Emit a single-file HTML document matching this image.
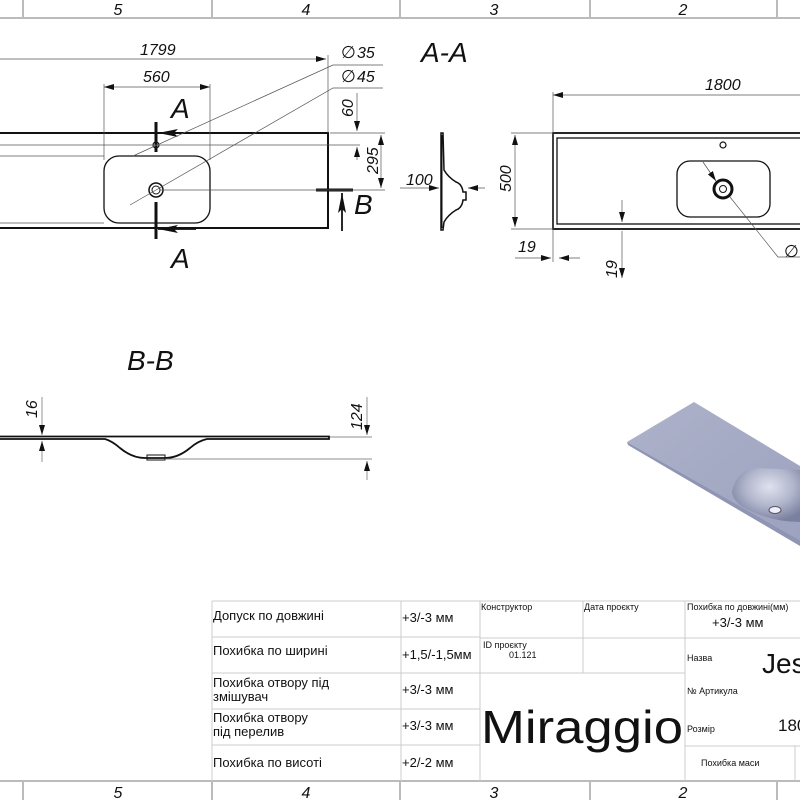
<!DOCTYPE html>
<html><head><meta charset="utf-8"><style>
html,body{margin:0;padding:0;background:#fff;width:800px;height:800px;overflow:hidden}
svg{display:block}
.it{font-family:"Liberation Sans",sans-serif;font-style:italic;fill:#111}
.t{font-family:"Liberation Sans","DejaVu Sans",sans-serif;fill:#111}
</style></head><body>
<svg width="800" height="800" viewBox="0 0 800 800" xmlns="http://www.w3.org/2000/svg">
<defs>
<marker id="ar" viewBox="0 0 10 6" refX="10" refY="3" markerWidth="10" markerHeight="6" orient="auto-start-reverse" markerUnits="userSpaceOnUse"><path d="M0,0 L10,3 L0,6 z" fill="#111"/></marker>
<marker id="big" viewBox="0 0 20 8" refX="20" refY="4" markerWidth="20" markerHeight="8" orient="auto" markerUnits="userSpaceOnUse"><path d="M0,0 L20,4 L0,8 L4,4 z" fill="#111"/></marker>
<linearGradient id="g3" x1="0" y1="0" x2="1" y2="1"><stop offset="0" stop-color="#aeb2ca"/><stop offset="1" stop-color="#9ca2bf"/></linearGradient>
<radialGradient id="sk" cx="0.55" cy="0.35" r="0.65"><stop offset="0" stop-color="#dfe2ee"/><stop offset="0.55" stop-color="#b0b5cc"/><stop offset="1" stop-color="#7a809f"/></radialGradient>
</defs>
<g stroke="#bbb" stroke-width="2" fill="none">
<line x1="0" y1="18" x2="800" y2="18"/>
<line x1="23" y1="0" x2="23" y2="18"/><line x1="212" y1="0" x2="212" y2="18"/><line x1="400" y1="0" x2="400" y2="18"/><line x1="590" y1="0" x2="590" y2="18"/><line x1="777" y1="0" x2="777" y2="18"/>
<line x1="0" y1="781" x2="800" y2="781"/>
<line x1="23" y1="781" x2="23" y2="800"/><line x1="212" y1="781" x2="212" y2="800"/><line x1="400" y1="781" x2="400" y2="800"/><line x1="590" y1="781" x2="590" y2="800"/><line x1="777" y1="781" x2="777" y2="800"/>
</g>
<g class="it" font-size="16" text-anchor="middle">
<text x="118" y="15">5</text><text x="306" y="15">4</text><text x="494" y="15">3</text><text x="683" y="15">2</text>
<text x="118" y="798">5</text><text x="306" y="798">4</text><text x="494" y="798">3</text><text x="683" y="798">2</text>
</g>

<g stroke="#111" fill="none">
<rect x="-5" y="133" width="333" height="95" stroke-width="2"/>
<rect x="104" y="156" width="106" height="67" rx="15" stroke-width="1.3"/>
<circle cx="156" cy="190" r="7" stroke-width="1.5"/><circle cx="156" cy="190" r="4" stroke-width="1"/>
<circle cx="156" cy="145" r="3" stroke-width="1.2"/>
<line x1="156" y1="122" x2="156" y2="152" stroke-width="3"/>
<line x1="156" y1="202" x2="156" y2="239" stroke-width="3"/>
<line x1="316" y1="190" x2="353" y2="190" stroke-width="3"/>
</g>
<g stroke="#111" stroke-width="1.8">
<line x1="196" y1="133" x2="158" y2="133" marker-end="url(#big)"/>
<line x1="196" y1="229" x2="158" y2="229" marker-end="url(#big)"/>
<line x1="342" y1="231" x2="342" y2="193" marker-end="url(#big)"/>
</g>
<g stroke="#555" stroke-width="0.7" fill="none">
<line x1="0" y1="59" x2="326" y2="59" marker-end="url(#ar)"/>
<line x1="328" y1="55" x2="328" y2="133"/>
<line x1="104" y1="87" x2="210" y2="87" marker-start="url(#ar)" marker-end="url(#ar)"/>
<line x1="104" y1="84" x2="104" y2="160"/><line x1="210" y1="84" x2="210" y2="160"/>
<polyline points="383,65 333,65 133,156"/>
<polyline points="383,88 333,88 130,205"/>
<line x1="0" y1="145" x2="360" y2="145"/>
<line x1="160" y1="190" x2="385" y2="190"/>
<line x1="0" y1="156" x2="104" y2="156"/><line x1="0" y1="223" x2="104" y2="223"/>
<line x1="330" y1="133" x2="385" y2="133"/>
<line x1="357" y1="93" x2="357" y2="131" marker-end="url(#ar)"/>
<line x1="357" y1="160" x2="357" y2="147" marker-end="url(#ar)"/>
<line x1="381" y1="135" x2="381" y2="188" marker-start="url(#ar)" marker-end="url(#ar)"/>
</g>
<g class="it" font-size="16">
<text x="140" y="55">1799</text>
<text x="143" y="82">560</text>
<text x="357" y="58">35</text><text x="357" y="82">45</text>
<text x="341" y="58" font-size="17" font-style="normal">∅</text><text x="341" y="82" font-size="17" font-style="normal">∅</text>
<text transform="translate(353,117) rotate(-90)">60</text>
<text transform="translate(378,174) rotate(-90)">295</text>
</g>
<g class="it" font-size="28">
<text x="171" y="118">A</text><text x="171" y="268">A</text><text x="354" y="214">B</text>
<text x="421" y="62">A-A</text>
<text x="127" y="370">B-B</text>
</g>

<g stroke="#111" stroke-width="1.5" fill="none">
<path d="M441,133 L443,133 L444,170 Q448,177 456,182 Q462,184 463,192 L466,192 L466,200 L463,200 Q462,208 456,210 Q448,215 444,222 L443,230 L441,230 Z"/>
<line x1="442" y1="135" x2="442" y2="228" stroke-width="1"/>
</g>
<g stroke="#555" stroke-width="0.7">
<line x1="400" y1="188" x2="439" y2="188" marker-end="url(#ar)"/>
<line x1="485" y1="188" x2="468" y2="188" marker-end="url(#ar)"/>
</g>
<text class="it" x="406" y="185" font-size="16">100</text>

<g stroke="#111" fill="none">
<rect x="553" y="133" width="260" height="96" stroke-width="1.8"/>
<rect x="557" y="138" width="256" height="86" stroke-width="1.3"/>
<rect x="677" y="161" width="93" height="56" rx="13" stroke-width="1.3"/>
<circle cx="723" cy="189" r="9" stroke-width="3"/><circle cx="723" cy="189" r="3.5" stroke-width="1"/>
<circle cx="723" cy="145" r="3" stroke-width="1.2"/>
</g>
<g stroke="#555" stroke-width="0.7" fill="none">
<line x1="553" y1="95" x2="800" y2="95" marker-start="url(#ar)"/>
<line x1="553" y1="92" x2="553" y2="262"/>
<line x1="511" y1="133" x2="553" y2="133"/><line x1="511" y1="229" x2="553" y2="229"/>
<line x1="515" y1="135" x2="515" y2="227" marker-start="url(#ar)" marker-end="url(#ar)"/>
<line x1="515" y1="258" x2="551" y2="258" marker-end="url(#ar)"/>
<line x1="580" y1="258" x2="559" y2="258" marker-end="url(#ar)"/>
<line x1="622" y1="200" x2="622" y2="222" marker-end="url(#ar)"/>
<line x1="622" y1="278" x2="622" y2="231" marker-start="url(#ar)"/>
<line x1="703" y1="162" x2="716" y2="181" marker-end="url(#ar)"/>
<polyline points="730,197 778,257 800,257"/>
</g>
<g class="it" font-size="16">
<text x="705" y="90">1800</text>
<text transform="translate(511,192) rotate(-90)">500</text>
<text x="518" y="252">19</text>
<text transform="translate(617,278) rotate(-90)">19</text>
<text x="784" y="257" font-style="normal" font-size="17">∅</text>
</g>

<g stroke="#111" fill="none">
<path d="M0,436.5 L329,436.5 L329,439 L207,439 Q198,441 190,448 Q178,458 165,458 L145,458 Q132,458 120,448 Q112,441 105,439 L0,439" stroke-width="1.8"/>
<rect x="147" y="455" width="18" height="5" stroke-width="1"/>
</g>
<g stroke="#666" stroke-width="0.7">
<line x1="42" y1="397" x2="42" y2="435" marker-end="url(#ar)"/>
<line x1="42" y1="462" x2="42" y2="441" marker-end="url(#ar)"/>
<line x1="330" y1="437" x2="372" y2="437"/>
<line x1="165" y1="459" x2="372" y2="459"/>
<line x1="367" y1="397" x2="367" y2="435" marker-end="url(#ar)"/>
<line x1="367" y1="480" x2="367" y2="461" marker-end="url(#ar)"/>
</g>
<g class="it" font-size="16">
<text transform="translate(37,418) rotate(-90)">16</text>
<text transform="translate(362,430) rotate(-90)">124</text>
</g>

<path d="M627,442 L694,402 L800,466 L800,540 Z" fill="url(#g3)"/>
<path d="M627,442 L800,540 L800,546 L628,445 Z" fill="#8f95b2"/>
<path d="M732,492 Q736,470 758,468 L800,470 L800,522 Q778,522 758,514 Q734,506 732,492 Z" fill="url(#sk)"/>
<ellipse cx="775" cy="510" rx="6" ry="3.5" fill="#eef" stroke="#555" stroke-width="1"/>

<g stroke="#ccc" stroke-width="1" fill="none">
<line x1="212" y1="601" x2="800" y2="601"/>
<line x1="212" y1="601" x2="212" y2="781"/>
<line x1="401" y1="601" x2="401" y2="781"/>
<line x1="480" y1="601" x2="480" y2="781"/>
<line x1="583" y1="601" x2="583" y2="673"/>
<line x1="685" y1="601" x2="685" y2="781"/>
<line x1="212" y1="637" x2="480" y2="637"/>
<line x1="212" y1="673" x2="480" y2="673"/>
<line x1="212" y1="709" x2="480" y2="709"/>
<line x1="212" y1="745" x2="480" y2="745"/>
<line x1="480" y1="638" x2="685" y2="638"/>
<line x1="480" y1="673" x2="685" y2="673"/>
<line x1="685" y1="638" x2="800" y2="638"/>
<line x1="685" y1="746" x2="800" y2="746"/>
<line x1="795" y1="746" x2="795" y2="781"/>
</g>
<g class="t" font-size="13">
<text x="213" y="620">Допуск по довжині</text>
<text x="213" y="655">Похибка по ширині</text>
<text x="213" y="687">Похибка отвору під</text>
<text x="213" y="701">змішувач</text>
<text x="213" y="722">Похибка отвору</text>
<text x="213" y="736">під перелив</text>
<text x="213" y="767">Похибка по висоті</text>
<text x="402" y="622">+3/-3 мм</text>
<text x="402" y="659">+1,5/-1,5мм</text>
<text x="402" y="694">+3/-3 мм</text>
<text x="402" y="730">+3/-3 мм</text>
<text x="402" y="767">+2/-2 мм</text>
<text x="712" y="627">+3/-3 мм</text>
</g>
<g class="t" font-size="9">
<text x="481" y="610">Конструктор</text>
<text x="584" y="610">Дата проєкту</text>
<text x="687" y="610">Похибка по довжині(мм)</text>
<text x="483" y="648">ID проєкту</text>
<text x="509" y="658">01.121</text>
<text x="687" y="661">Назва</text>
<text x="687" y="694">№ Артикула</text>
<text x="687" y="732">Розмір</text>
<text x="701" y="766">Похибка маси</text>
</g>
<text class="t" x="481" y="743" font-size="46" textLength="202" lengthAdjust="spacingAndGlyphs">Miraggio</text>
<text class="t" x="762" y="673" font-size="28">Jes</text>
<text class="t" x="778" y="731" font-size="17">180</text>
</svg>
</body></html>
